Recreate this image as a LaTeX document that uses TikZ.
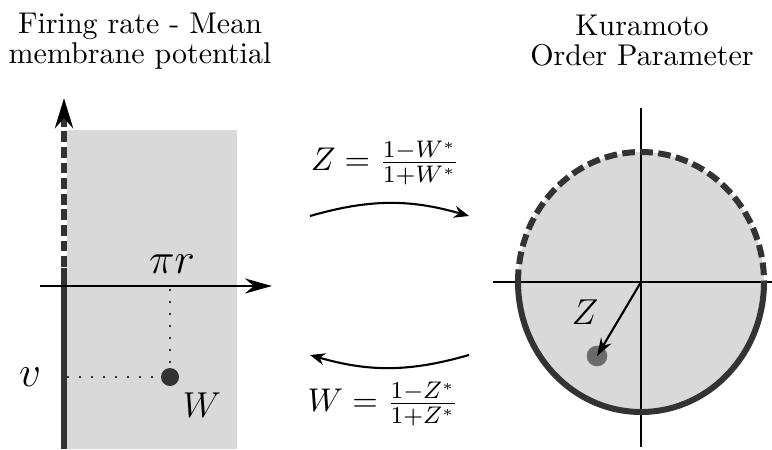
\documentclass[tikz,border=0pt]{standalone}
\usepackage{amsmath, amssymb}
\usepackage{tikz}
\usetikzlibrary{arrows.meta, positioning, calc}
\definecolor{panelgray}{HTML}{D9D9D9}
\definecolor{darkline}{HTML}{333333}
\definecolor{dotgray}{HTML}{6A6A6A}

\begin{document}
\begin{tikzpicture}[x=0.3333pt, y=-0.3333pt,
	title/.style={align=center, font=\fontsize{10}{10}\selectfont},
	lbl/.style={font=\large},
	biglbl/.style={font=\Large},
	maplbl/.style={font=\fontsize{11}{13}\selectfont},
	axis/.style={line width=0.7pt},
	thickline/.style={darkline, line width=2.3pt},
	dashline/.style={darkline, line width=2.3pt, dash pattern=on 3.6pt off 1.6pt},
	rimline/.style={darkline, line width=2pt},
	dots/.style={line width=0.7pt, line cap=round, dash pattern=on 0pt off 4pt}]
	\useasboundingbox (0,0) rectangle (772,449);
	
	% titles
	\node[title] (ltitle) at (140,41) {Firing rate - Mean\\membrane potential};
	\node[title] (rtitle) at (642,41) {Kuramoto\\Order Parameter};
	
	% firing rate plane
	\fill[panelgray] (67,130) rectangle (237,449);
	\coordinate (vtop) at (64,98);
	\coordinate (vmid) at (64,268);
	\coordinate (vbot) at (64,449);
	\draw[dashline, {Stealth[length=10pt, width=6pt, black]}-] (vtop) -- (vmid);
	\draw[thickline] (vmid) -- (vbot);
	\coordinate (hl) at (40,286);
	\coordinate (hr) at (272,286);
	\draw[axis, -{Stealth[length=9pt, width=5pt]}] (hl) -- (hr);
	\node[circle, fill=darkline, inner sep=0pt, minimum size=6pt] (W) at (170,377) {};
	\coordinate (pfoot) at (170,290);
	\coordinate (vfoot) at (68,377);
	\draw[dots] (pfoot) -- (W);
	\draw[dots] (vfoot) -- (W);
	\node[biglbl] (pr) at (172,264) {$\pi r$};
	\node[biglbl] (v) at (30,377) {$v$};
	\node[lbl] (Wlbl) at (202,405) {$W$};
	
	% maps between the two
	\coordinate (ta) at (310,216);
	\coordinate (tb) at (469,216);
	\coordinate (ba) at (469,355);
	\coordinate (bb) at (310,355);
	\draw[axis, -{Stealth[length=5pt, width=4pt]}] (ta) to[bend left=16] (tb);
	\draw[axis, -{Stealth[length=5pt, width=4pt]}] (ba) to[bend left=16] (bb);
	\node[maplbl] (zmap) at (385,163) {$Z = \frac{1-W^*}{1+W^*}$};
	\node[maplbl] (wmap) at (383,404) {$W = \frac{1-Z^*}{1+Z^*}$};
	
	% Kuramoto disc
	\coordinate (C) at (641,282);
	\fill[panelgray] (C) ellipse [x radius=123, y radius=130];
	\coordinate (al) at (493,282);
	\coordinate (ar) at (772,282);
	\coordinate (at) at (641,108);
	\coordinate (ab) at (641,447);
	\draw[axis] (al) -- (ar);
	\draw[axis] (at) -- (ab);
	\draw[rimline] ($(C)+(-123,0)$) arc[start angle=180, end angle=0, x radius=123, y radius=130];
	\draw[rimline, dash pattern=on 4.2pt off 1.8pt] ($(C)+(-123,0)$) arc[start angle=180, end angle=360, x radius=123, y radius=130];
	\node[circle, fill=dotgray, draw=darkline!70, inner sep=0pt, minimum size=6.5pt] (Zdot) at (597,356) {};
	\draw[axis, -{Stealth[length=6pt, width=4pt]}] (C) -- (Zdot.center);
	\node[lbl] (Zlbl) at (585,312) {$Z$};
\end{tikzpicture}
\end{document}
